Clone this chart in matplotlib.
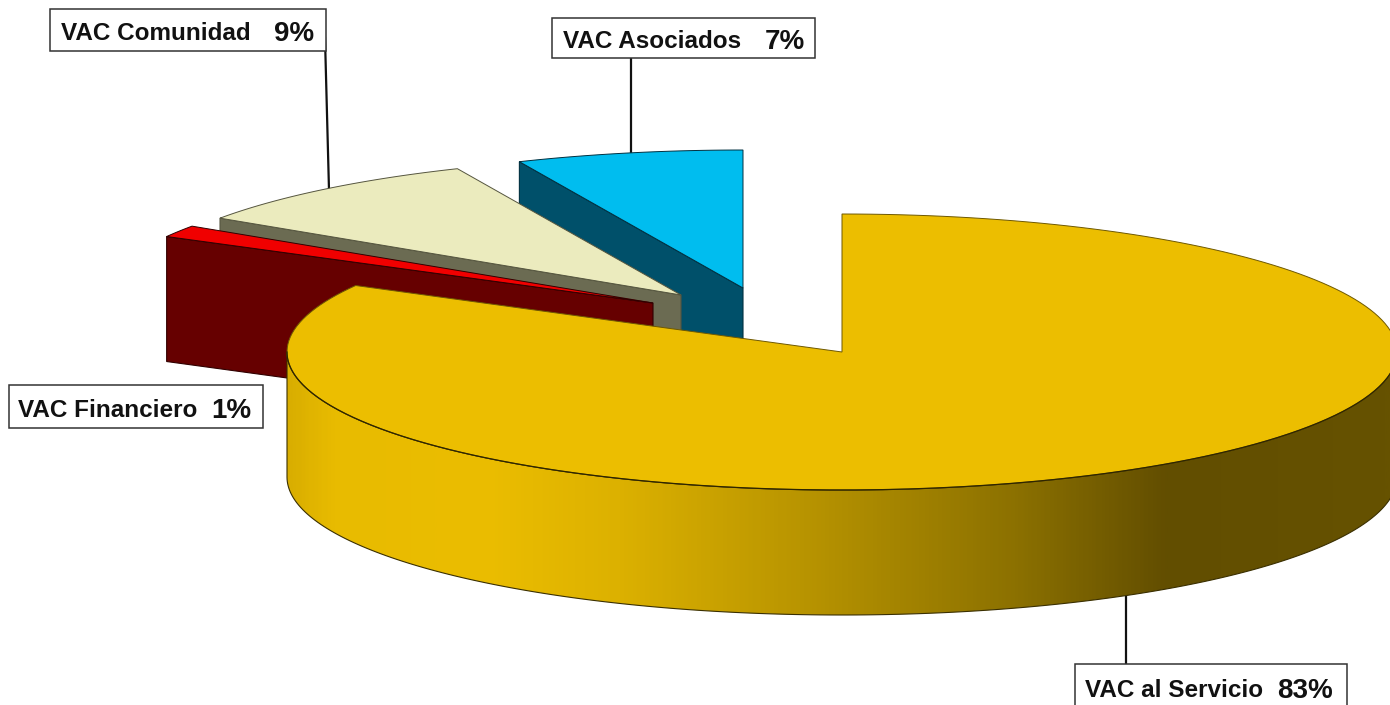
import numpy as np
import matplotlib
matplotlib.use("Agg")
import matplotlib.pyplot as plt
from matplotlib.colors import LinearSegmentedColormap
from matplotlib.patches import Polygon, Rectangle

plt.rcParams['font.family'] = ['Liberation Sans', 'DejaVu Sans']

# data, same order as the pie goes round (clockwise from the top)
# shares, the labels show them rounded
names = ["VAC al Servicio", "VAC Financiero", "VAC Comunidad", "VAC Asociados"]
shares = [83.0, 1.4, 9.0, 6.6]

# style / layout per slice
centers = [(842, 352), (653, 303), (681, 295), (743, 288)]
top_colors = ["#ECBE00", "#F00000", "#EBEBBE", "#00BDEF"]
side_colors = ["#ECBE00", "#660000", "#6B6B52", "#00506A"]
edge_colors = ["#6E5800", "#300000", "#55553F", "#003040"]

RX = 555
RY = 138
DEPTH = 125

fig = plt.figure(figsize=(13.9, 7.05), dpi=100)
ax = fig.add_axes([0, 0, 1, 1])
ax.set_xlim(0, 1390)
ax.set_ylim(705, 0)
ax.axis("off")


def arc(center, a, b, drop=0):
    t = np.radians(np.linspace(a, b, 200))
    return np.column_stack([center[0] + RX * np.cos(t),
                            center[1] - RY * np.sin(t) + drop])


# slice angles from the values
ends = 90 - 3.6 * np.cumsum(shares)
starts = np.r_[90, ends[:-1]]

# leader lines go under everything
ax.plot([325, 329], [38, 190], color="#111111", lw=1.6, zorder=1)
ax.plot([631, 631], [58, 156], color="#111111", lw=1.6, zorder=1)
ax.plot([1126, 1126], [595, 665], color="#111111", lw=1.6, zorder=1)

# back to front, the later slices hide what they should
order = [3, 2, 1, 0]
z = 2
for i in order:
    c = centers[i]
    top = arc(c, starts[i], ends[i])
    if i != 0:
        # radial side that faces the viewer
        outer = top[0]
        side = [c, outer, (outer[0], outer[1] + DEPTH), (c[0], c[1] + DEPTH)]
        ax.add_patch(Polygon(side, closed=True, fc=side_colors[i], ec=edge_colors[i],
                             lw=0.8, zorder=z))
        z += 1
    else:
        # rim of the big slice with its shading
        wall = np.vstack([arc(c, 180, 362), arc(c, 362, 180, DEPTH)])
        patch = Polygon(wall, closed=True, fc="none", ec="#3A2F00", lw=0.8, zorder=z + 1)
        ax.add_patch(patch)
        stops = [(0.0, "#D9AE00"), (0.04, "#E8BB00"), (0.18, "#EBBD00"), (0.30, "#DCB100"),
                 (0.47, "#B89400"), (0.66, "#8C7100"), (0.80, "#624E00"), (1.0, "#665200")]
        cmap = LinearSegmentedColormap.from_list("rim", stops)
        im = ax.imshow(np.linspace(0, 1, 600)[None, :], cmap=cmap, aspect="auto",
                       extent=[287, 1390, 705, 0], zorder=z)
        im.set_clip_path(Polygon(wall, closed=True, transform=ax.transData))
        ax.set_xlim(0, 1390)
        ax.set_ylim(705, 0)
        z += 2
    ax.add_patch(Polygon(np.vstack([[c], top]), closed=True, fc=top_colors[i],
                         ec=edge_colors[i], lw=0.7, zorder=z))
    z += 1

# the edge between rim and top is darker than the rest of the outline
ax.plot(*arc(centers[0], 180, 362).T, color="#2E2500", lw=0.9, zorder=z)

# label boxes: x0, y0, x1, y1, name x, baseline, percent x
boxes = [
    (1075, 664, 1347, 712, 1085, 697, 1277),
    (9, 385, 263, 428, 18, 417, 211),
    (50, 9, 326, 51, 61, 40, 274),
    (552, 18, 815, 58, 563, 48, 765),
]
for i, b in enumerate(boxes):
    ax.add_patch(Rectangle((b[0], b[1]), b[2] - b[0], b[3] - b[1], fc="white",
                           ec="#333333", lw=1.1, zorder=30))
    ax.text(b[4], b[5], names[i], fontsize=17.5, fontweight="bold", color="#111111",
            ha="left", va="baseline", zorder=31)
    ax.text(b[6], b[5] + 1, "%d%%" % round(shares[i]), fontsize=20, fontweight="bold",
            color="#111111", ha="left", va="baseline", zorder=31)

fig.savefig("out.png", dpi=100, facecolor="white")
